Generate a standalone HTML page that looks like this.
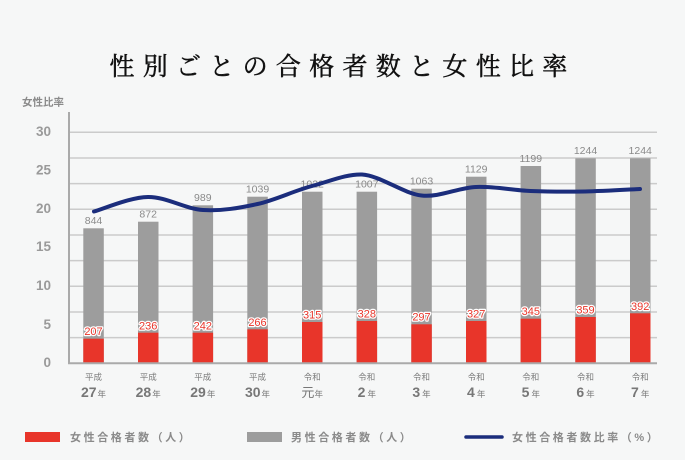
<!DOCTYPE html>
<html><head><meta charset="utf-8"><style>
html,body{margin:0;padding:0;background:#f6f7f7;}
svg{display:block;}
text{font-family:"Liberation Sans","Noto Sans CJK JP",sans-serif;}
</style></head><body>
<svg width="685" height="460" viewBox="0 0 685 460" xmlns="http://www.w3.org/2000/svg">
<rect width="685" height="460" fill="#f6f7f7"/>
<text x="342.5" y="75" text-anchor="middle" style="font-family:'Liberation Serif','Noto Serif CJK SC',serif;font-size:25px;font-weight:normal;letter-spacing:8.3px" fill="#111" stroke="#111" stroke-width="0.5">性別ごとの合格者数と女性比率</text>
<text x="22" y="105.5" font-size="10.5" font-weight="bold" fill="#8a8a8a">女性比率</text>
<g stroke="#cbcbcb" stroke-width="1.5">
<line x1="69" x2="657" y1="132.3" y2="132.3"/>
<line x1="69" x2="657" y1="158" y2="158"/>
<line x1="69" x2="657" y1="183.6" y2="183.6"/>
<line x1="69" x2="657" y1="209.3" y2="209.3"/>
<line x1="69" x2="657" y1="235" y2="235"/>
<line x1="69" x2="657" y1="260.6" y2="260.6"/>
<line x1="69" x2="657" y1="286.3" y2="286.3"/>
<line x1="69" x2="657" y1="312" y2="312"/>
<line x1="69" x2="657" y1="337.6" y2="337.6"/>
</g>
<g font-size="13.5" font-weight="bold" fill="#9a9a9a" text-anchor="end">
<text x="51" y="136">30</text>
<text x="51" y="174.5">25</text>
<text x="51" y="213">20</text>
<text x="51" y="251">15</text>
<text x="51" y="290">10</text>
<text x="51" y="329">5</text>
<text x="51" y="367">0</text>
</g>
<g fill="#9d9d9d">
<rect x="83.3" y="228.3" width="20.5" height="134.7"/>
<rect x="138" y="221.7" width="20.5" height="141.3"/>
<rect x="192.6" y="205.3" width="20.5" height="157.7"/>
<rect x="247.3" y="196.7" width="20.5" height="166.3"/>
<rect x="302" y="191.7" width="20.5" height="171.3"/>
<rect x="356.6" y="191.7" width="20.5" height="171.3"/>
<rect x="411.3" y="188.7" width="20.5" height="174.3"/>
<rect x="466" y="176.7" width="20.5" height="186.3"/>
<rect x="520.6" y="166" width="20.5" height="197"/>
<rect x="575.3" y="158.3" width="20.5" height="204.7"/>
<rect x="630" y="158.3" width="20.5" height="204.7"/>
</g>
<g fill="#e8352a">
<rect x="83.3" y="338.7" width="20.5" height="24.3"/>
<rect x="138" y="332.7" width="20.5" height="30.3"/>
<rect x="192.6" y="332.7" width="20.5" height="30.3"/>
<rect x="247.3" y="329.3" width="20.5" height="33.7"/>
<rect x="302" y="322" width="20.5" height="41"/>
<rect x="356.6" y="321" width="20.5" height="42"/>
<rect x="411.3" y="324.3" width="20.5" height="38.7"/>
<rect x="466" y="321" width="20.5" height="42"/>
<rect x="520.6" y="318.7" width="20.5" height="44.3"/>
<rect x="575.3" y="317" width="20.5" height="46"/>
<rect x="630" y="313.3" width="20.5" height="49.7"/>
</g>
<line x1="69" x2="69" y1="112" y2="364" stroke="#aaa" stroke-width="2"/>
<line x1="68" x2="657" y1="363.3" y2="363.3" stroke="#aaa" stroke-width="2"/>
<g font-size="10.5" fill="#8a8a8a" text-anchor="middle">
<text x="93.5" y="224">844</text>
<text x="148.2" y="217.5">872</text>
<text x="202.8" y="201">989</text>
<text x="257.5" y="192.5">1039</text>
<text x="312.2" y="187.5">1022</text>
<text x="366.8" y="187.5">1007</text>
<text x="421.5" y="184.5">1063</text>
<text x="476.2" y="172.5">1129</text>
<text x="530.8" y="162">1199</text>
<text x="585.5" y="154">1244</text>
<text x="640.2" y="154">1244</text>
</g>
<g font-size="11" fill="#e8352a" stroke="#fff" stroke-width="2.5" paint-order="stroke" stroke-linejoin="round" text-anchor="middle">
<text x="93.5" y="335">207</text>
<text x="148.2" y="329.5">236</text>
<text x="202.8" y="329.5">242</text>
<text x="257.5" y="326">266</text>
<text x="312.2" y="318.5">315</text>
<text x="366.8" y="317.5">328</text>
<text x="421.5" y="320.5">297</text>
<text x="476.2" y="317.5">327</text>
<text x="530.8" y="315">345</text>
<text x="585.5" y="313.5">359</text>
<text x="640.2" y="310">392</text>
</g>
<path d="M94,211.5 C103,209.1 129.8,197.25 148,197 C166.2,196.75 184.75,208.83 203,210 C221.25,211.17 239.33,208 257.5,204 C275.67,200 293.75,190.83 312,186 C330.25,181.17 346,174 362,174.5 C380,175.5 403.33,193.5 421.5,195.5 C439.67,197.5 457.83,187.75 476,187 C494.17,186.25 512.33,190.25 530.5,191 C548.67,191.75 566.75,191.83 585,191.5 C603.25,191.17 630.83,189.42 640,189" fill="none" stroke="#1b2d7c" stroke-width="4" stroke-linecap="round"/>
<g font-size="8.5" fill="#7a7a7a" text-anchor="middle">
<text x="93.5" y="380">平成</text>
<text x="148.2" y="380">平成</text>
<text x="202.8" y="380">平成</text>
<text x="257.5" y="380">平成</text>
<text x="312.2" y="380">令和</text>
<text x="366.8" y="380">令和</text>
<text x="421.5" y="380">令和</text>
<text x="476.2" y="380">令和</text>
<text x="530.8" y="380">令和</text>
<text x="585.5" y="380">令和</text>
<text x="640.2" y="380">令和</text>
</g>
<g fill="#777" text-anchor="middle">
<text x="93.5" y="397"><tspan font-size="14" font-weight="bold">27</tspan><tspan font-size="8.5" dx="1">年</tspan></text>
<text x="148.2" y="397"><tspan font-size="14" font-weight="bold">28</tspan><tspan font-size="8.5" dx="1">年</tspan></text>
<text x="202.8" y="397"><tspan font-size="14" font-weight="bold">29</tspan><tspan font-size="8.5" dx="1">年</tspan></text>
<text x="257.5" y="397"><tspan font-size="14" font-weight="bold">30</tspan><tspan font-size="8.5" dx="1">年</tspan></text>
<text x="312.2" y="397"><tspan font-size="13">元</tspan><tspan font-size="8.5">年</tspan></text>
<text x="366.8" y="397"><tspan font-size="14" font-weight="bold">2</tspan><tspan font-size="8.5" dx="2">年</tspan></text>
<text x="421.5" y="397"><tspan font-size="14" font-weight="bold">3</tspan><tspan font-size="8.5" dx="2">年</tspan></text>
<text x="476.2" y="397"><tspan font-size="14" font-weight="bold">4</tspan><tspan font-size="8.5" dx="2">年</tspan></text>
<text x="530.8" y="397"><tspan font-size="14" font-weight="bold">5</tspan><tspan font-size="8.5" dx="2">年</tspan></text>
<text x="585.5" y="397"><tspan font-size="14" font-weight="bold">6</tspan><tspan font-size="8.5" dx="2">年</tspan></text>
<text x="640.2" y="397"><tspan font-size="14" font-weight="bold">7</tspan><tspan font-size="8.5" dx="2">年</tspan></text>
</g>
<rect x="25" y="432" width="35" height="10" fill="#e8352a"/>
<rect x="247" y="432" width="35" height="10" fill="#9d9d9d"/>
<line x1="466" x2="502" y1="437" y2="437" stroke="#1b2d7c" stroke-width="3.5" stroke-linecap="round"/>
<g font-size="11" font-weight="bold" fill="#8a8a8a" letter-spacing="2.6">
<text x="70" y="441">女性合格者数（人）</text>
<text x="291" y="441">男性合格者数（人）</text>
<text x="512" y="441">女性合格者数比率（%）</text>
</g>
</svg>
</body></html>
